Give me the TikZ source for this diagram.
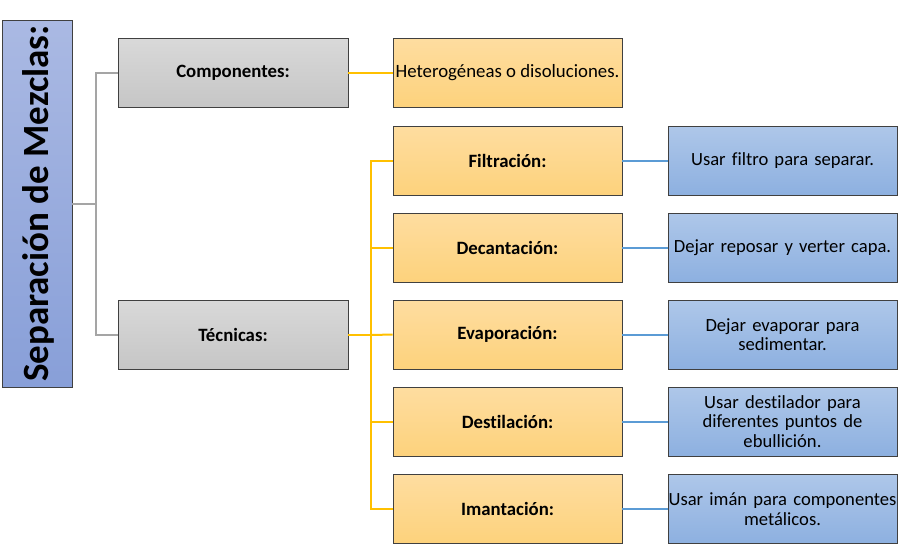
\documentclass[tikz,border=0pt]{standalone}
\usepackage{fontspec}
\setmainfont[Ligatures=NoCommon]{Carlito}
\begin{document}
\begin{tikzpicture}[x=1pt,y=-1pt,
  box/.style={draw=black!75, line width=0.9pt, minimum height=69pt, inner sep=0pt, align=center, font=\fontsize{18.8}{19.5}\selectfont},
  graybox/.style={box, minimum width=230pt, top color=gray!30, bottom color=gray!45, font=\fontsize{18.8}{19.5}\selectfont\bfseries},
  orbox/.style={box, minimum width=229pt, top color=orT, bottom color=orB},
  orbold/.style={orbox, font=\fontsize{18.8}{19.5}\selectfont\bfseries},
  bluebox/.style={box, minimum width=229pt, text width=229pt, top color=blT, bottom color=blB, font=\fontsize{18.6}{19.6}\selectfont},
  grayline/.style={draw=lnGray, line width=2pt},
  orline/.style={draw=lnOr, line width=2pt},
  blline/.style={draw=lnBl, line width=2pt}
]
\definecolor{orT}{HTML}{FEDDA0}
\definecolor{orB}{HTML}{FDD27C}
\definecolor{blT}{HTML}{AEC7E9}
\definecolor{blB}{HTML}{8DB0E0}
\definecolor{tiT}{HTML}{AAB9E3}
\definecolor{tiB}{HTML}{889FD8}
\definecolor{lnGray}{HTML}{A5A5A5}
\definecolor{lnOr}{HTML}{FFC000}
\definecolor{lnBl}{HTML}{5B9BD5}
\useasboundingbox (0,0) rectangle (911,547);

\node[draw=black!75, line width=0.9pt, minimum width=70pt, minimum height=367pt, inner sep=0pt,
  top color=tiT, bottom color=tiB] (title) at (37,203.5) {};
\node[rotate=90, font=\fontsize{37}{40}\selectfont\bfseries] (titletext) at (38,203.5) {Separación de Mezclas:};

\node[graybox] (comp) at (233,73) {Componentes:};
\node[graybox] (tec) at (233,335) {Técnicas:};

\node[orbox] (het) at (507.5,73) {Heterogéneas o disoluciones.};
\node[orbold] (fil) at (507.5,160.5) {Filtración:};
\node[orbold] (dec) at (507.5,247.5) {Decantación:};
\node[orbold] (eva) at (507.5,334.5) {Evaporación:};
\node[orbold] (des) at (507.5,421.5) {Destilación:};
\node[orbold] (ima) at (507.5,509) {Imantación:};

\node[bluebox] (bfil) at (782.5,160.5) {Usar filtro para separar.};
\node[bluebox] (bdec) at (782.5,247.5) {Dejar reposar y verter capa.};
\node[bluebox] (beva) at (782.5,334.5) {Dejar evaporar para\\sedimentar.};
\node[bluebox] (bdes) at (782.5,421.5) {Usar destilador para\\diferentes puntos de\\ebullición.};
\node[bluebox] (bima) at (782.5,509) {Usar imán para componentes\\metálicos.};

\draw[grayline] (title.east) -- ++(24,0) coordinate (gj) |- (comp.west);
\draw[grayline] (gj) |- (tec.west);

\draw[orline] (comp.east) -- (het.west);
\draw[orline] (tec.east) -- ++(23,0) coordinate (oj);
\draw[orline] (oj) |- (fil.west);
\draw[orline] (oj) |- (dec.west);
\draw[orline] (oj) -- (eva.west);
\draw[orline] (oj) |- (des.west);
\draw[orline] (oj) |- (ima.west);

\draw[blline] (fil.east) -- (bfil.west);
\draw[blline] (dec.east) -- (bdec.west);
\draw[blline] (eva.east) -- (beva.west);
\draw[blline] (des.east) -- (bdes.west);
\draw[blline] (ima.east) -- (bima.west);
\end{tikzpicture}
\end{document}
